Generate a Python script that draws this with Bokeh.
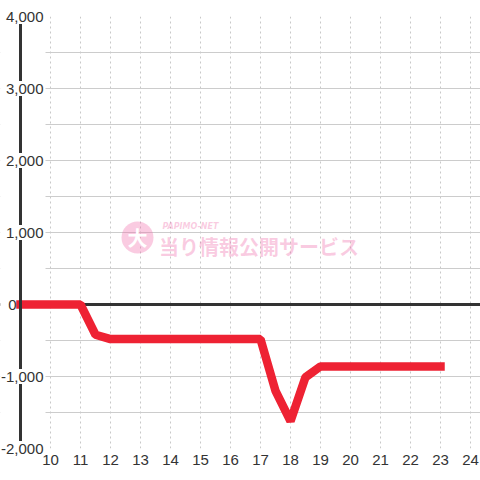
from bokeh.plotting import figure
from bokeh.models import Range1d, FixedTicker, Span
from bokeh.core.properties import value
from bokeh.embed import file_html
from bokeh.resources import INLINE

# ---- data ----
hours = [9, 9.5, 10, 10.5, 11, 11.5, 12, 12.5, 13, 13.5, 14, 14.5, 15, 15.5,
         16, 16.5, 17, 17.5, 18, 18.5, 19, 19.5, 20, 20.5, 21, 21.5, 22, 22.5, 23]
balance = [0, 0, 0, 0, 0, -420, -480, -480, -480, -480, -480, -480, -480, -480,
           -480, -480, -480, -1200, -1620, -1010, -860, -860, -860, -860, -860,
           -860, -860, -860, -860]
x_ticks = [10, 11, 12, 13, 14, 15, 16, 17, 18, 19, 20, 21, 22, 23, 24]
y_ticks = [4000, 3000, 2000, 1000, -1000, -2000]
y_tick_labels = ["4,000", "3,000", "2,000", "1,000", "-1,000", "-2,000"]
zero_tick = [0]
zero_label = ["0"]
y_grid = [4000, 3500, 3000, 2500, 2000, 1500, 1000, 500, 0, -500, -1000, -1500, -2000]

FONT = "Liberation Sans"
TXT = "#333333"
X0, X1 = 8.3333, 24.3333

p = figure(width=480, height=480, output_backend="svg", toolbar_location=None,
           x_range=Range1d(X0, X1), y_range=Range1d(-2000, 4000),
           y_axis_location=None, min_border_left=0, min_border_right=0,
           min_border_top=16, min_border_bottom=32)
p.outline_line_color = None
p.background_fill_color = "white"
p.border_fill_color = "white"

# grids (painted first)
p.xgrid.ticker = FixedTicker(ticks=x_ticks)
p.xgrid.grid_line_color = "#c8c8c8"
p.xgrid.grid_line_dash = "2 3"
p.xgrid.grid_line_width = 1
p.xgrid.level = "image"
p.ygrid.ticker = FixedTicker(ticks=y_grid)
p.ygrid.grid_line_color = "#cccccc"
p.ygrid.grid_line_width = 1
p.ygrid.level = "image"

# x axis
xa = p.xaxis[0]
xa.ticker = FixedTicker(ticks=x_ticks)
xa.axis_line_color = None
xa.major_tick_line_color = None
xa.minor_tick_line_color = None
xa.major_tick_out = 0
xa.major_label_standoff = 6
xa.major_label_text_font = FONT
xa.major_label_text_font_size = "15px"
xa.major_label_text_color = TXT

# zero line
p.add_layout(Span(location=0, dimension="width", line_color="#333333",
                  line_width=3, level="underlay"))

# white margin left of the grid area (grid lines start just before the first tick)
p.quad(left=[X0], right=[x_ticks[0] - 1 / 6], bottom=[y_grid[-1] - 100],
       top=[y_grid[0] + 100], fill_color="white", line_color=None)

# watermark
p.scatter(x=[12.9], y=[930], size=32, color="#f06aa8", alpha=0.35, line_color=None)
p.text(x=[12.9], y=[930], text=["大"], text_font=value("Noto Sans CJK JP"),
       text_font_style="bold", text_font_size="20px", text_color="white",
       text_align="center", text_baseline="middle")
p.text(x=[13.73], y=[1083], text=["PAPIMO-NET"], text_font=value("DejaVu Sans"),
       text_font_style="bold italic", text_font_size="8px", text_color="#f06aa8",
       text_alpha=0.35, text_align="left", text_baseline="middle")
p.text(x=[13.62], y=[806], text=["当り情報公開サービス"], text_font=value("Noto Sans CJK JP"),
       text_font_style="bold", text_font_size="20px", text_color="#f06aa8",
       text_alpha=0.35, text_align="left", text_baseline="middle")

# data line
p.line(hours, balance, line_color="#ee2233", line_width=8.5, line_cap="square")

# y axis line (drawn above the data line)
p.add_layout(Span(location=9, dimension="height", line_color="#333333",
                  line_width=3))

# white gaps in the axis line behind the tick labels
gaps = p.rect(x=[9] * len(y_ticks), y=y_ticks, width=10, height=15,
              width_units="screen", height_units="screen",
              fill_color="white", line_color=None)
gaps.level = "overlay"

# y tick labels
lbl = p.text(x=[9] * len(y_ticks), y=y_ticks, text=y_tick_labels, x_offset=23,
             text_font=value(FONT), text_font_size="15px", text_color=TXT,
             text_align="right", text_baseline="middle")
lbl.level = "overlay"
zl = p.text(x=[9] * len(zero_tick), y=zero_tick, text=zero_label, x_offset=-4,
            text_font=value(FONT), text_font_size="15px", text_color=TXT,
            text_align="right", text_baseline="middle")
zl.level = "overlay"

open("out.html", "w").write(file_html(p, INLINE))
